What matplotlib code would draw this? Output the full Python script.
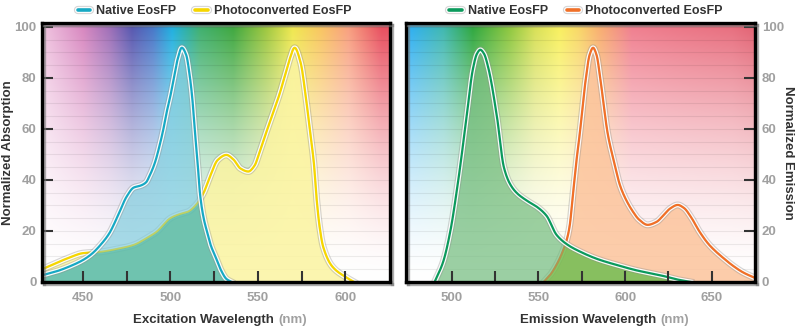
import numpy as np
import matplotlib
matplotlib.use('Agg')
import matplotlib.pyplot as plt
import matplotlib.patheffects as pe
from matplotlib.colors import to_rgb
from matplotlib.lines import Line2D

plt.rcParams['font.family'] = ['Liberation Sans', 'DejaVu Sans']
plt.rcParams['font.weight'] = 'bold'

# ---------------- data ----------------
legend_labels = ['Native EosFP', 'Photoconverted EosFP']

native_ex_wl = [425, 435, 442, 450, 455, 460, 465, 470, 475, 479, 483, 486, 488, 491, 494, 496,
                498, 500, 502, 504, 506.5, 509, 511, 512.5, 514, 515.5, 517, 519, 521, 523,
                526, 529, 532, 535]
native_ex = [2.3, 4.2, 6, 8.6, 11, 14.5, 19, 26, 33.5, 37, 37.8, 39, 41.5, 46.5, 54, 60,
             67, 73, 80, 87, 91.8, 89, 81, 72, 59, 47, 34, 25, 19.5, 14.5,
             9.5, 4.5, 1.2, 0]

photo_ex_wl = [425, 435, 442, 450, 460, 470, 479, 486, 492, 500, 505, 510, 515, 519, 522.6, 527,
               532, 536, 540, 544.5, 548, 551, 554.7, 558.5, 562.3, 565.5, 568, 571, 574.4,
               577.3, 579.6, 582, 583.5, 585.2, 587.3, 592.6, 600, 605]
photo_ex = [4.5, 7.5, 9.5, 11.3, 11.8, 13, 14.5, 17, 19.6, 25, 26.5, 27.5, 30.5, 35, 41.3, 47.8,
            49.8, 48, 44.5, 43.3, 45.5, 51, 58.5, 66, 73.5, 81, 87, 91.8, 86,
            73, 60, 46.5, 33, 22, 13.8, 6, 2, 0]

native_em_wl = [490, 495, 499, 503.5, 508.5, 512, 514.5, 516.4, 518.5, 521, 526, 530, 533.5,
                537.3, 543, 549, 554.6, 560.5, 567, 574, 584, 595, 607, 620, 630, 638]
native_em = [0, 8, 19.6, 39, 64.8, 83, 89.5, 91, 89.5, 84, 64.8, 45, 38.5,
             35, 32, 29.5, 26, 18.4, 14.5, 11.9, 9, 6.7, 4.5, 2.7, 1, 0]

photo_em_wl = [553, 557, 561, 564, 566.5, 568, 570, 572, 573.8, 577, 579.5, 581.5, 583.5, 586,
               590, 594, 597, 600, 604.5, 608, 613, 618, 622, 626, 630.4, 634, 638, 643,
               648, 652, 656, 662, 668, 673.6, 677]
photo_em = [0, 3, 7.5, 12, 17, 22, 35, 48, 58, 78, 89, 91.8, 89, 78,
            58, 46, 38, 33, 27.6, 24.5, 22.4, 23.5, 26, 28.8, 30.2, 29, 25.5, 19.7,
            15, 12.2, 9.8, 6.5, 3.8, 2, 1]

y_ticks = [0, 20, 40, 60, 80, 100]
ex_major = [450, 500, 550, 600]
ex_minor = [475, 525, 575]
em_major = [500, 550, 600, 650]
em_minor = [525, 575, 625]

bg_ex_wl = [400, 427, 450, 465, 478, 490, 501, 510, 517, 536, 555, 570, 585, 602, 621, 680]
bg_ex_col = ['#f4d0e8', '#f0c4e0', '#d888c0', '#a070b8', '#5858b0', '#4878c8', '#20b0e0', '#30b0a0',
             '#40b070', '#40a840', '#a0c840', '#f0e850', '#f8c860', '#f8a080', '#e85060', '#e05060']
bg_em_wl = [460, 476, 495, 512, 533.5, 548, 562, 573, 585, 604, 630, 662, 680]
bg_em_col = ['#30b0f0', '#30b0f0', '#40b8b0', '#30a840', '#90c840', '#d8e058', '#f8f060', '#f8d868',
             '#f8b070', '#f08090', '#ec7888', '#e87080', '#e06070']


def pchip(x, y, xn):
    x = np.asarray(x, float); y = np.asarray(y, float); xn = np.asarray(xn, float)
    h = np.diff(x); d = np.diff(y) / h
    m = np.zeros_like(y)
    for k in range(1, len(x) - 1):
        if d[k - 1] * d[k] > 0:
            w1 = 2 * h[k] + h[k - 1]; w2 = h[k] + 2 * h[k - 1]
            m[k] = (w1 + w2) / (w1 / d[k - 1] + w2 / d[k])
    m[0] = d[0]; m[-1] = d[-1]
    idx = np.clip(np.searchsorted(x, xn) - 1, 0, len(h) - 1)
    t = (xn - x[idx]) / h[idx]
    h00 = 2 * t**3 - 3 * t**2 + 1; h10 = t**3 - 2 * t**2 + t
    h01 = -2 * t**3 + 3 * t**2; h11 = t**3 - t**2
    out = h00 * y[idx] + h10 * h[idx] * m[idx] + h01 * y[idx + 1] + h11 * h[idx] * m[idx + 1]
    out = np.where((xn < x[0]) | (xn > x[-1]), 0.0, out)
    return np.clip(out, 0, None)


halo = [pe.Stroke(linewidth=5.0, foreground='#8a8a8a', alpha=0.35),
        pe.Stroke(linewidth=3.4, foreground='white', alpha=0.95),
        pe.Normal()]

fig = plt.figure(figsize=(8, 3.31), dpi=100)
ax1 = fig.add_axes([42 / 800, 1 - 282 / 331, 348 / 800, 259 / 331])
ax2 = fig.add_axes([406 / 800, 1 - 282 / 331, 349 / 800, 259 / 331])

XL1 = (426.6, 625.5)
XL2 = (473.5, 675.0)
YL = (0, 101.5)


def background(ax, wl, cols, xl):
    xs = np.linspace(xl[0], xl[1], 500)
    ys = np.linspace(YL[0], YL[1], 300)
    c = np.array([to_rgb(v) for v in cols])
    rgb = np.stack([np.interp(xs, wl, c[:, i]) for i in range(3)], axis=-1)
    a = np.clip(ys / 100.0, 0, 1) ** 1.6
    img = 1 - a[:, None, None] * (1 - rgb[None, :, :])
    ax.imshow(img, extent=[xl[0], xl[1], YL[0], YL[1]], origin='lower', aspect='auto',
              zorder=0, interpolation='bilinear')
    for yv in np.arange(5, 101, 5):
        ax.axhline(yv, color='black', alpha=0.07, lw=0.8, zorder=0.1)


def panel(ax, xl, under_wl, under_y, over_wl, over_y, under_line, under_fill, over_line,
          over_fill, overlap_fill):
    xg = np.linspace(xl[0] - 2, xl[1] + 2, 1500)
    yu = pchip(under_wl, under_y, xg)
    yo = pchip(over_wl, over_y, xg)
    mu = (xg >= under_wl[0]) & (xg <= under_wl[-1])
    mo = (xg >= over_wl[0]) & (xg <= over_wl[-1])
    ax.fill_between(xg[mu], 0, yu[mu], color=under_fill, alpha=0.85, lw=0, zorder=0.5)
    ax.plot(xg[mu], yu[mu], color=under_line, lw=1.6, zorder=0.8, path_effects=halo)
    ax.fill_between(xg[mo], 0, yo[mo], color=over_fill, alpha=0.7, lw=0, zorder=1.0)
    ax.fill_between(xg, 0, np.minimum(yu, yo), color=overlap_fill, alpha=0.6, lw=0, zorder=1.1)
    ax.plot(xg[mu], yu[mu], color=under_line, lw=1.2, alpha=0.35, zorder=1.2)
    ax.plot(xg[mo], yo[mo], color=over_line, lw=1.6, zorder=1.4, path_effects=halo)


background(ax1, bg_ex_wl, bg_ex_col, XL1)
background(ax2, bg_em_wl, bg_em_col, XL2)

CYAN, YELLOW, GREEN, ORANGE = '#17a9c4', '#f6d600', '#0b9a5c', '#f07028'
panel(ax1, XL1, photo_ex_wl, photo_ex, native_ex_wl, native_ex,
      YELLOW, '#fbf4a1', CYAN, '#83cdde', '#4bb69a')
panel(ax2, XL2, photo_em_wl, photo_em, native_em_wl, native_em,
      ORANGE, '#fcc49c', GREEN, '#72bc7d', '#7bbf43')

for ax, xl, maj, mnr in [(ax1, XL1, ex_major, ex_minor), (ax2, XL2, em_major, em_minor)]:
    ax.set_xlim(*xl)
    ax.set_ylim(*YL)
    ax.set_xticks(maj)
    ax.set_xticks(mnr, minor=True)
    ax.set_yticks(y_ticks)
    ax.set_axisbelow(False)
    ax.tick_params(axis='both', which='both', direction='in', length=8, width=1.5,
                   color='#333333', labelcolor='#a0a0a0', labelsize=9.5)
    ax.tick_params(axis='x', which='both', pad=7)
    for sp in ax.spines.values():
        sp.set_linewidth(2.4)
        sp.set_color('black')
        sp.set_capstyle('projecting')
        sp.set_zorder(3)
        sp.set_path_effects([pe.SimpleLineShadow(offset=(1.5, -1.5), shadow_color='#777777', alpha=0.6),
                             pe.Normal()])

ax1.tick_params(axis='y', pad=4)
ax2.yaxis.tick_right()
ax2.tick_params(axis='y', pad=5)

# axis labels
for ax, x0, txt in [(ax1, 133, 'Excitation Wavelength'), (ax2, 520, 'Emission Wavelength')]:
    t = fig.text(x0 / 800, 1 - 320 / 331, txt, ha='left', va='center', fontsize=9.5,
                 weight='bold', color='#333333')
    ax.annotate('(nm)', xy=(1, 0.5), xycoords=t, xytext=(3, 0), textcoords='offset points',
                ha='left', va='center', fontsize=9.5, weight='bold', color='#a0a0a0')

fig.text(8 / 800, 1 - 152.5 / 331, 'Normalized Absorption', rotation=90, ha='center', va='center',
         fontsize=9.5, weight='bold', color='#333333')
fig.text(788 / 800, 1 - 152.5 / 331, 'Normalized Emission', rotation=270, ha='center', va='center',
         fontsize=9.5, weight='bold', color='#333333')

# legends
leg_halo = [pe.Stroke(linewidth=6.0, foreground='#8a8a8a', alpha=0.35),
            pe.Stroke(linewidth=4.4, foreground='white', alpha=0.95),
            pe.Normal()]
for cx, cols in [(214.5, (CYAN, YELLOW)), (586, (GREEN, ORANGE))]:
    hs = [Line2D([], [], color=c, lw=2.6, path_effects=leg_halo, solid_capstyle='round') for c in cols]
    fig.legend(hs, legend_labels, loc='center', bbox_to_anchor=(cx / 800, 1 - 11 / 331), ncol=2,
               frameon=False, prop={'weight': 'bold', 'size': 9}, handlelength=1.0,
               handletextpad=0.5, columnspacing=1.5, labelcolor='#333333', borderpad=0,
               borderaxespad=0)

fig.savefig('out.png', dpi=100)
